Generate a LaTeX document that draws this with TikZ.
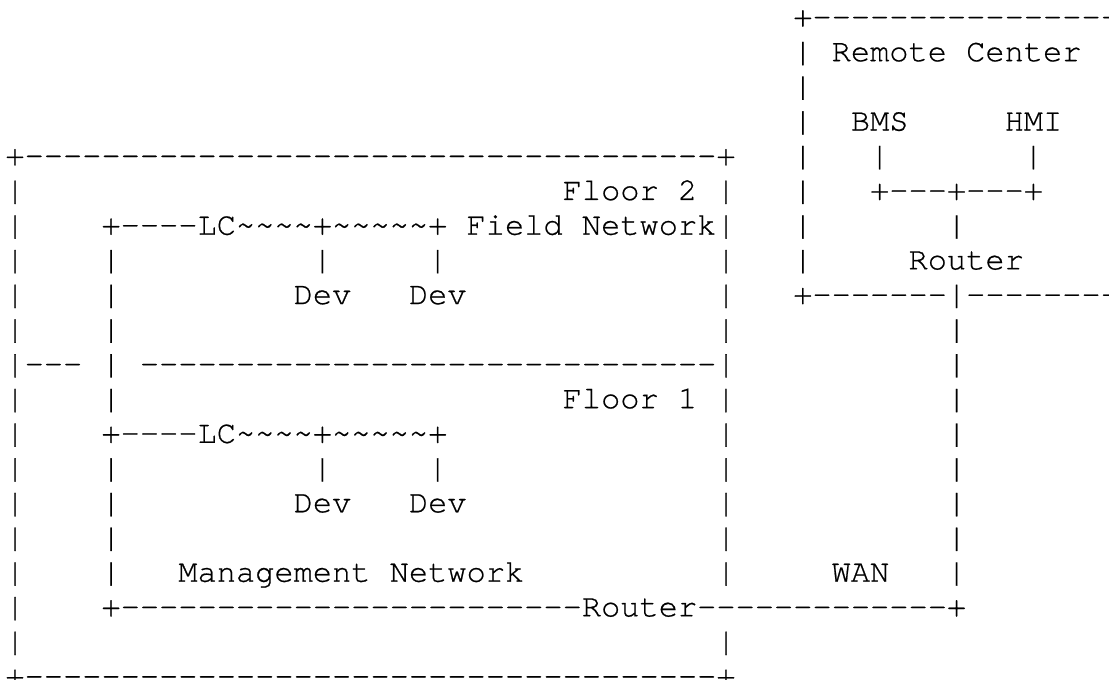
\documentclass[tikz,border=0pt]{standalone}
\usepackage{fontspec}
\setmonofont[FakeBold=0.6]{texgyrecursor-regular.otf}
\ExplSyntaxOn
\cs_new:Npn \dsh #1 { \prg_replicate:nn {#1} {-} }
\cs_new:Npn \tlds #1 { \prg_replicate:nn {#1} {\char"7E\relax} }
\ExplSyntaxOff
\newcommand\blk[1]{\kern#1\fontcharwd\font`x\relax}
\tikzset{
  asciirow/.style={anchor=base west, inner sep=0pt, outer sep=0pt,
    font=\ttfamily\fontsize{24.02pt}{26pt}\selectfont, text=black}
}
\begin{document}
\begin{tikzpicture}[x=0.75pt, y=-0.75pt]
\useasboundingbox (0,0) rectangle (1109,680);
\clip (0,0) rectangle (1109,680);
\def\X{5.4}
\node[asciirow] (r0)  at (\X, 26.5+0*34.7)  {\blk{41}+\dsh{16}};
\node[asciirow] (r1)  at (\X, 26.5+1*34.7)  {\blk{41}|\blk{1}Remote\blk{1}Center};
\node[asciirow] (r2)  at (\X, 26.5+2*34.7)  {\blk{41}|};
\node[asciirow] (r3)  at (\X, 26.5+3*34.7)  {\blk{41}|\blk{2}BMS\blk{5}HMI};
\node[asciirow] (r4)  at (\X, 26.5+4*34.7)  {+\dsh{36}+\blk{3}|\blk{3}|\blk{7}|};
\node[asciirow] (r5)  at (\X, 26.5+5*34.7)  {|\blk{28}Floor\blk{1}2\blk{1}|\blk{3}|\blk{3}+\dsh{3}+\dsh{3}+};
\node[asciirow] (r6)  at (\X, 26.5+6*34.7)  {|\blk{4}+\dsh{4}LC\tlds{4}+\tlds{5}+\blk{1}Field\blk{1}Network|\blk{3}|\blk{7}|};
\node[asciirow] (r7)  at (\X, 26.5+7*34.7)  {|\blk{4}|\blk{10}|\blk{5}|\blk{14}|\blk{3}|\blk{5}Router};
\node[asciirow] (r8)  at (\X, 26.5+8*34.7)  {|\blk{4}|\blk{9}Dev\blk{3}Dev\blk{13}|\blk{3}+\dsh{7}|\dsh{8}};
\node[asciirow] (r9)  at (\X, 26.5+9*34.7)  {|\blk{4}|\blk{31}|\blk{11}|};
\node[asciirow] (r10) at (\X, 26.5+10*34.7) {|\dsh{3}\blk{1}|\blk{1}\dsh{30}|\blk{11}|};
\node[asciirow] (r11) at (\X, 26.5+11*34.7) {|\blk{4}|\blk{23}Floor\blk{1}1\blk{1}|\blk{11}|};
\node[asciirow] (r12) at (\X, 26.5+12*34.7) {|\blk{4}+\dsh{4}LC\tlds{4}+\tlds{5}+\blk{14}|\blk{11}|};
\node[asciirow] (r13) at (\X, 26.5+13*34.7) {|\blk{4}|\blk{10}|\blk{5}|\blk{14}|\blk{11}|};
\node[asciirow] (r14) at (\X, 26.5+14*34.7) {|\blk{4}|\blk{9}Dev\blk{3}Dev\blk{13}|\blk{11}|};
\node[asciirow] (r15) at (\X, 26.5+15*34.7) {|\blk{4}|\blk{31}|\blk{11}|};
\node[asciirow] (r16) at (\X, 26.5+16*34.7) {|\blk{4}|\blk{3}Management\blk{1}Network\blk{10}|\blk{5}WAN\blk{3}|};
\node[asciirow] (r17) at (\X, 26.5+17*34.7) {|\blk{4}+\dsh{24}Router\dsh{13}+};
\node[asciirow] (r18) at (\X, 26.5+18*34.7) {|\blk{36}|};
\node[asciirow] (r19) at (\X, 26.5+19*34.7) {+\dsh{36}+};
\end{tikzpicture}
\end{document}
